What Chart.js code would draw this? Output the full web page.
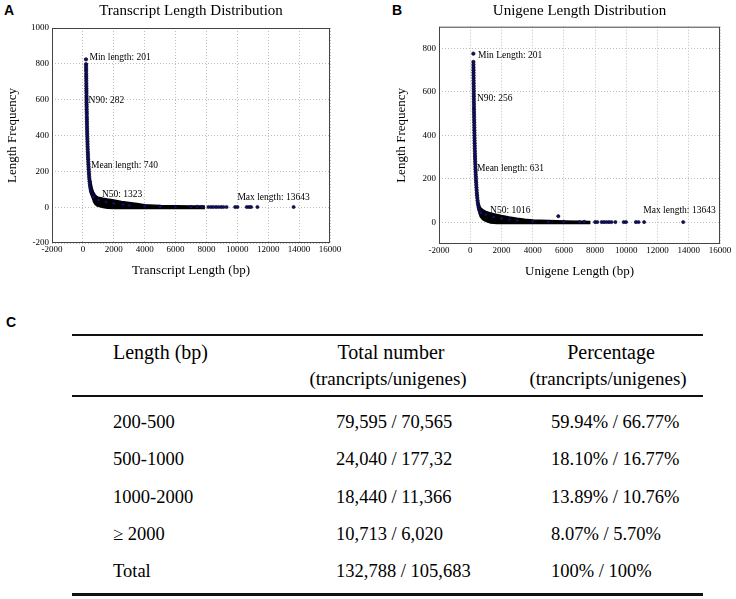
<!DOCTYPE html>
<html><head><meta charset="utf-8">
<script src="https://cdn.jsdelivr.net/npm/chart.js@4.4.1/dist/chart.umd.min.js"></script>
<style>
html,body{margin:0;padding:0;background:#fff;}
body{width:736px;height:599px;position:relative;overflow:hidden;font-family:'Liberation Serif','Times New Roman',serif;color:#000;}
.wrap{position:absolute;}
.letter{position:absolute;font-family:'Liberation Sans',Arial,sans-serif;font-weight:bold;font-size:14px;line-height:14px;}
.rule{position:absolute;left:72px;width:631px;background:#111;}
.t{position:absolute;white-space:nowrap;line-height:1;transform:translateY(-50%);}
.c{transform:translate(-50%,-50%);}
</style></head><body>
<div class="letter" style="left:4px;top:3px">A</div>
<div class="letter" style="left:392px;top:3px">B</div>
<div class="letter" style="left:6px;top:315px">C</div>
<div class="wrap" style="left:0;top:0;width:345px;height:278px"><canvas id="cA"></canvas></div>
<div class="wrap" style="left:370px;top:0;width:365px;height:279px"><canvas id="cB"></canvas></div>
<div id="table"></div>
<script>
// ---------- axis ticks ----------
const xTicks = [-2000,0,2000,4000,6000,8000,10000,12000,14000,16000];
const yTicksA = [-200,0,200,400,600,800,1000];
const yTicksB = [0,200,400,600,800];

// ---------- Panel A: transcripts ----------
const columnA = [[201,825],[205,798],[207,785],[210,772],[212,760],[214,745],[216,731],[218,718],[220,705],[222,690],[224,676],[226,662],[228,650],[230,637],[232,622],[234,610],[236,598],[238,585],[240,572],[243,560],[246,546],[249,533],[252,520],[255,505],[258,492],[261,478],[264,465],[268,450],[272,436],[276,422],[280,408],[285,394],[290,380],[295,366],[300,352],[306,338],[312,324],[318,310],[325,296],[332,282],[340,268],[348,254],[356,240],[365,226],[375,212],[385,198],[396,184],[408,170],[420,157],[434,144],[450,131],[468,119],[488,108],[510,98],[535,89],[562,81],[592,74],[625,68],[662,62],[700,57]];
const dotsA = [[1000,40],[1500,30],[2000,22],[2600,14],[3000,10],[4000,5],[5000,3],[6000,2],[7000,1],[7400,2],[7700,1],[8130,1],[8300,1],[8450,1],[8620,1],[8780,1],[8950,1],[9100,1],[9300,1],[9860,1],[10010,1],[10610,1],[10760,1],[10890,1],[11300,1],[13643,1]];
const bandXA = [500,600,700,800,900,1000,1300,1600,2000,2500,3000,3500,4000,5000,6000,7000,7900];
const bandTopA = [150,105,82,68,60,56,50,45,40,32,26,20,14,10,8,7,6];
const bandBotA = [100,55,28,15,8,5,-2,-6,-7,-7,-7,-7,-7,-7,-7,-7,-7];
const noteTextA = ['Min length: 201','N90: 282','Mean length: 740','N50: 1323','Max length: 13643'];
const noteXA = [430,370,523,1235,10006];
const noteYA = [833,597,234,72,54];

// ---------- Panel B: unigenes ----------
const columnB = [[201,776],[204,738],[206,725],[208,712],[210,700],[212,688],[214,676],[216,664],[218,652],[220,640],[222,628],[224,616],[226,604],[228,592],[230,580],[232,568],[234,556],[236,544],[238,532],[240,520],[243,508],[246,496],[249,484],[252,472],[255,460],[258,448],[261,436],[264,424],[268,412],[272,400],[276,388],[280,376],[284,364],[288,352],[292,340],[297,328],[302,316],[307,304],[312,292],[318,280],[324,268],[330,256],[337,244],[344,232],[352,220],[360,208],[369,196],[378,184],[388,172],[398,160],[410,148],[422,136],[436,124],[452,112],[470,100],[490,89],[512,79],[538,70],[566,62],[598,55],[634,49],[675,44]];
const dotsB = [[1000,35],[1500,25],[2000,18],[2500,12],[3000,8],[4000,4],[5000,2],[5640,28],[6000,2],[7000,1],[7300,2],[8000,1],[8140,1],[8420,1],[8570,1],[8730,1],[8890,1],[9050,1],[9300,1],[9830,1],[9980,1],[10610,1],[10780,1],[11140,1],[13643,1]];
const bandXB = [550,650,800,1000,1300,1700,2000,2500,3000,3500,4000,5000,6000,7000,7700];
const bandTopB = [85,68,58,50,43,36,31,24,18,14,11,8,6,5,4];
const bandBotB = [45,25,12,4,-3,-6,-6,-6,-6,-6,-6,-6,-6,-6,-6];
const noteTextB = ['Min Length: 201','N90: 256','Mean length: 631','N50: 1016','Max length: 13643'];
const noteXB = [497,433,433,1270,11089];
const noteYB = [769,571,246,54,54];

// ---------- Panel C: table ----------
const headerLabels = ['Length (bp)','Total number','Percentage'];
const headerSub = ['','(trancripts/unigenes)','(trancripts/unigenes)'];
const rowLabels = ['200-500','500-1000','1000-2000','\u2265 2000','Total'];
const totalNumbers = ['79,595 / 70,565','24,040 / 177,32','18,440 / 11,366','10,713 / 6,020','132,788 / 105,683'];
const percentages = ['59.94% / 66.77%','18.10% / 16.77%','13.89% / 10.76%','8.07% / 5.70%','100% / 100%'];

const SERIF = "'Liberation Serif','Times New Roman',serif";
const toPts = arr => arr.map(p => ({x:p[0], y:p[1]}));

const framePlugin = {
  id:'frame',
  afterDatasetsDraw(chart, args, opts){
    const {ctx, chartArea:a, scales:{x,y}} = chart;
    ctx.save();
    ctx.strokeStyle = '#444'; ctx.lineWidth = 1;
    ctx.strokeRect(a.left+0.5, a.top+0.5, a.width-1, a.height-1);
    ctx.fillStyle = '#000';
    ctx.font = "9.5px " + SERIF;
    ctx.textBaseline = 'middle'; ctx.textAlign = 'left';
    (opts.notes||[]).forEach(n => ctx.fillText(n.text, x.getPixelForValue(n.x), y.getPixelForValue(n.y)));
    ctx.restore();
  }
};

function makeChart(id, p){
  const tickFont = {family:SERIF, size:9};
  return new Chart(document.getElementById(id), {
    type:'scatter',
    data:{datasets:[
      {data:toPts(p.dots), pointRadius:1.6, pointBackgroundColor:'#111170', pointBorderColor:'#000018', pointBorderWidth:0.6},
      {data:toPts(p.column), pointRadius:1.7, pointBackgroundColor:'#121275', pointBorderColor:'#000015', pointBorderWidth:0.7},
      {data:p.bandX.map((v,i)=>({x:v,y:p.bandTop[i]})), showLine:true, pointRadius:0, borderColor:'#000', borderWidth:1.5, backgroundColor:'#000', fill:'+1'},
      {data:p.bandX.map((v,i)=>({x:v,y:p.bandBot[i]})), showLine:true, pointRadius:0, borderColor:'#000', borderWidth:1.5, backgroundColor:'#000', fill:false}
    ]},
    options:{
      responsive:true, maintainAspectRatio:false, animation:false,
      layout:{padding:{left:0,right:15,top:0,bottom:0}},
      plugins:{
        legend:{display:false}, tooltip:{enabled:false},
        title:{display:true, text:p.title, color:'#000', fullSize:false, font:{family:SERIF,size:15,weight:'normal'}, padding:p.titlePad},
        frame:{notes:p.noteText.map((t,i)=>({text:t,x:p.noteX[i],y:p.noteY[i]}))}
      },
      scales:{
        x:{type:'linear', min:-2000, max:16000,
          afterBuildTicks:ax=>{ax.ticks = xTicks.map(v=>({value:v}));},
          afterFit:s=>{s.height = 35;},
          ticks:{font:tickFont, color:'#000', padding:1, autoSkip:false, maxRotation:0, callback:v=>String(v)},
          grid:{color:'#bdbdbd', lineWidth:1, drawTicks:false},
          border:{display:false, dash:[1,2]},
          title:{display:true, text:p.xTitle, color:'#000', font:{family:SERIF,size:13}, padding:{top:0,bottom:0}}
        },
        y:{type:'linear', min:p.yMin, max:p.yMax,
          afterBuildTicks:ax=>{ax.ticks = p.yTicks.map(v=>({value:v}));},
          afterFit:s=>{s.width = p.yWidth;},
          ticks:{font:tickFont, color:'#000', padding:3, callback:v=>String(v)},
          grid:{color:'#bdbdbd', lineWidth:1, drawTicks:false},
          border:{display:false, dash:[1,2]},
          title:{display:true, text:'Length Frequency', color:'#000', font:{family:SERIF,size:13}, padding:{top:p.yTitlePad,bottom:0}}
        }
      }
    },
    plugins:[framePlugin]
  });
}

makeChart('cA', {title:'Transcript Length Distribution', titlePad:{top:2,bottom:8}, xTitle:'Transcript Length (bp)',
  yMin:-200, yMax:1000, yTicks:yTicksA, yWidth:52, yTitlePad:4.5,
  column:columnA, dots:dotsA, bandX:bandXA, bandTop:bandTopA, bandBot:bandBotA,
  noteText:noteTextA, noteX:noteXA, noteY:noteYA});
makeChart('cB', {title:'Unigene Length Distribution', titlePad:{top:2,bottom:6.7}, xTitle:'Unigene Length (bp)',
  yMin:-100, yMax:900, yTicks:yTicksB, yWidth:69, yTitlePad:24,
  column:columnB, dots:dotsB, bandX:bandXB, bandTop:bandTopB, bandBot:bandBotB,
  noteText:noteTextB, noteX:noteXB, noteY:noteYB});

// ---------- table (HTML) ----------
const tbl = document.getElementById('table');
function addEl(cls, style, text){
  const d = document.createElement('div');
  d.className = cls; d.setAttribute('style', style);
  if (text !== undefined) d.textContent = text;
  tbl.appendChild(d);
}
addEl('rule','top:334px;height:2px');
addEl('rule','top:395px;height:2px');
addEl('rule','top:593px;height:3px');
const headCenters = [null, 391, 611];
addEl('t', 'left:113px;top:352px;font-size:20px', headerLabels[0]);
for (let c=1;c<3;c++){
  addEl('t c', 'left:'+headCenters[c]+'px;top:352px;font-size:20px', headerLabels[c]);
  addEl('t c', 'left:'+(headCenters[c]-3)+'px;top:378px;font-size:19px', headerSub[c]);
}
const rowY = [422,459,497,534,571];
rowLabels.forEach((lab,i)=>{
  addEl('t', 'left:113px;top:'+rowY[i]+'px;font-size:18.5px', lab);
  addEl('t', 'left:336px;top:'+rowY[i]+'px;font-size:18.5px', totalNumbers[i]);
  addEl('t', 'left:551px;top:'+rowY[i]+'px;font-size:18.5px', percentages[i]);
});
</script>
</body></html>
